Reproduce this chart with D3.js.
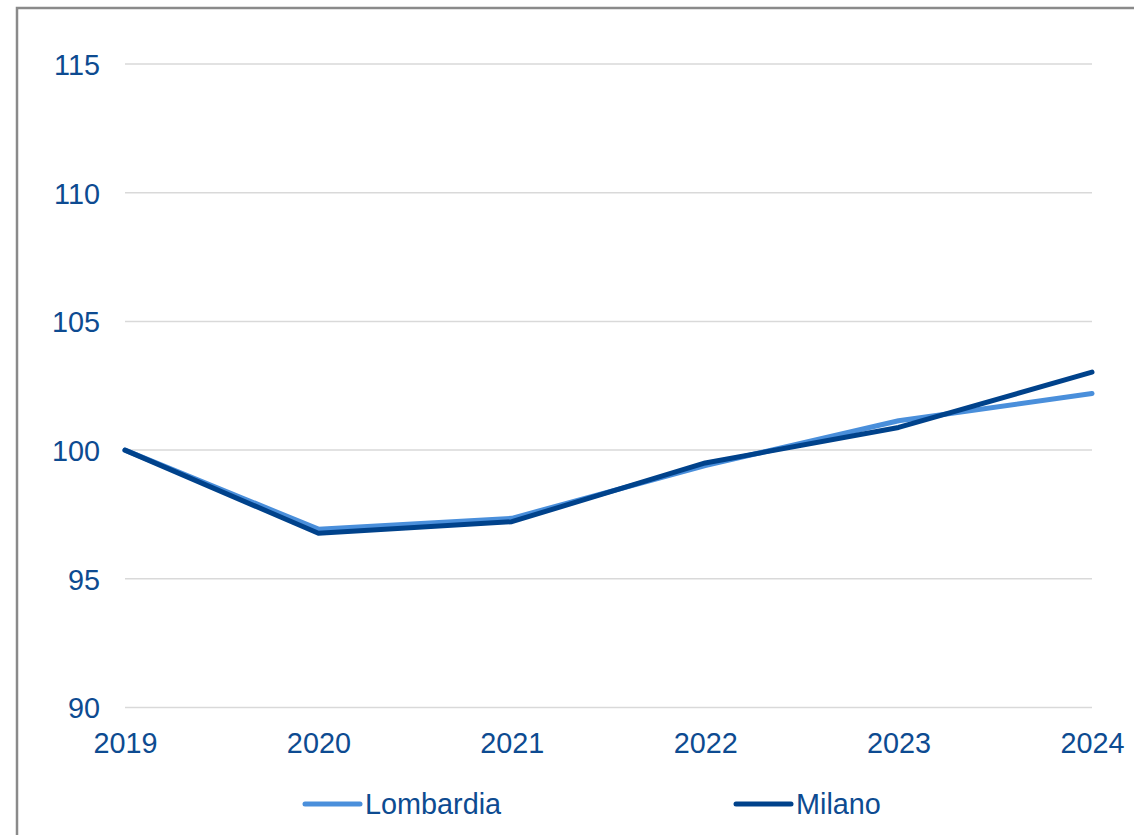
<!DOCTYPE html>
<html>
<head>
<meta charset="utf-8">
<script src="https://cdn.jsdelivr.net/npm/d3@7"></script>
<style>
html,body{margin:0;padding:0;background:#fff;overflow:hidden;}
svg{display:block;font-family:"Liberation Sans",Arial,sans-serif;}
</style>
</head>
<body>
<svg id="chart" width="1134" height="835"></svg>
<script>
const years = [2019, 2020, 2021, 2022, 2023, 2024];
const lombardia = [100, 96.93, 97.35, 99.4, 101.14, 102.2];
const milano = [100, 96.77, 97.22, 99.5, 100.88, 103.03];
const yTicks = [90, 95, 100, 105, 110, 115];
const seriesNames = ["Lombardia", "Milano"];
const seriesColors = ["#4a8fdb", "#00428b"];

const svg = d3.select("#chart");
const textColor = "#0d4b91";
const fs = "28.8px";

// outer border
svg.append("rect").attr("x", 17).attr("y", 8).attr("width", 1200).attr("height", 900)
  .attr("fill", "none").attr("stroke", "#8a8a8a").attr("stroke-width", 2.5);

const x = d3.scalePoint().domain(years).range([125, 1092]);
const y = d3.scaleLinear().domain([90, 115]).range([707.5, 64]);

// gridlines
svg.append("g").selectAll("line").data(yTicks).join("line")
  .attr("x1", 125).attr("x2", 1092)
  .attr("y1", d => y(d)).attr("y2", d => y(d))
  .attr("stroke", "#d9d9d9").attr("stroke-width", 1.5);

// y axis labels
const yAxis = d3.axisLeft(y).tickValues(yTicks).tickSize(0).tickPadding(0);
const gy = svg.append("g").attr("transform", "translate(100,0)").call(yAxis);
gy.select(".domain").remove();
gy.selectAll("text").attr("fill", textColor).style("font-size", fs)
  .style("font-family", '"Liberation Sans",Arial,sans-serif').attr("dy", "0.36em");

// x axis labels
const xAxis = d3.axisBottom(x).tickSize(0).tickPadding(0);
const gx = svg.append("g").attr("transform", "translate(0,753)").call(xAxis);
gx.select(".domain").remove();
gx.selectAll("text").attr("fill", textColor).style("font-size", fs)
  .style("font-family", '"Liberation Sans",Arial,sans-serif').attr("dy", "0");

// lines
const line = d3.line().x((d, i) => x(years[i])).y(d => y(d));
[lombardia, milano].forEach((s, k) => {
  svg.append("path").datum(s).attr("d", line)
    .attr("fill", "none").attr("stroke", seriesColors[k])
    .attr("stroke-width", 5).attr("stroke-linejoin", "round").attr("stroke-linecap", "round");
});

// legend
const legendX = [305, 736];
seriesNames.forEach((n, k) => {
  const g = svg.append("g");
  g.append("line").attr("x1", legendX[k]).attr("x2", legendX[k] + 55)
    .attr("y1", 804).attr("y2", 804)
    .attr("stroke", seriesColors[k]).attr("stroke-width", 5).attr("stroke-linecap", "round");
  g.append("text").attr("x", legendX[k] + 60).attr("y", 814)
    .attr("fill", textColor).style("font-size", fs).text(n);
});
</script>
</body>
</html>
